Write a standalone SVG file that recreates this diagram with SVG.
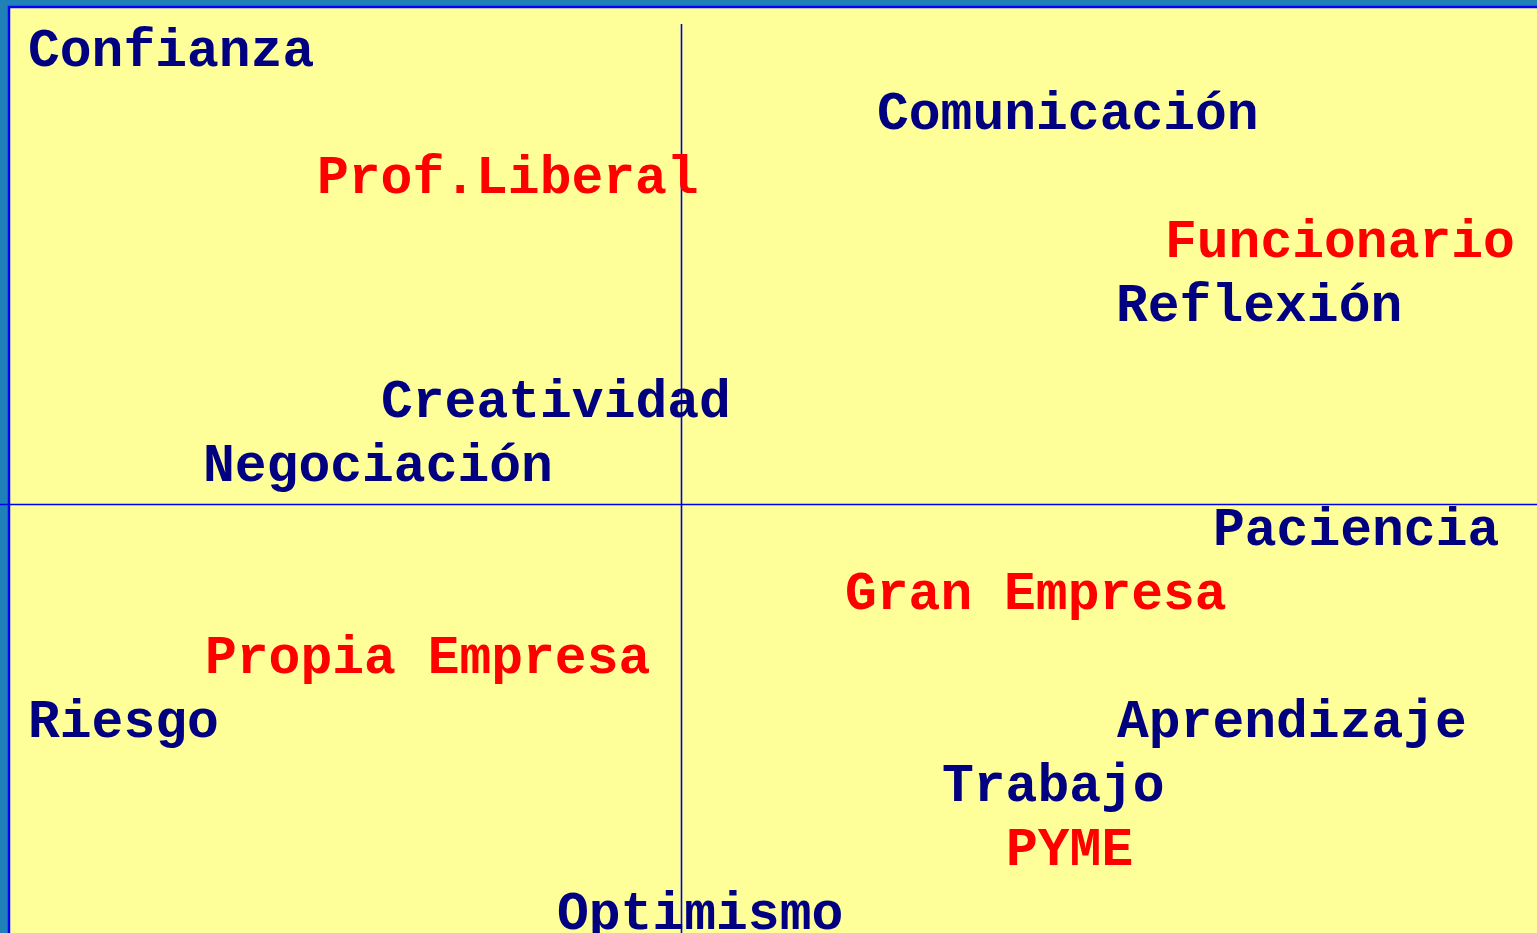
<svg xmlns="http://www.w3.org/2000/svg" width="1537" height="933" viewBox="0 0 1537 933">
<style>
text{font-family:"Liberation Mono","Courier New",monospace;font-weight:bold;font-size:53px}
.n{fill:#000080}
.r{fill:#FF0000}
</style>
<rect x="0" y="0" width="1537" height="933" fill="#2080B8"/>
<rect x="9" y="7" width="1545" height="945" fill="#FFFF99" stroke="#0000FF" stroke-width="2.5"/>
<g id="axes" stroke="#0000EE" stroke-width="1.6">
<line x1="0" y1="504.5" x2="1537" y2="504.5"/>
<line x1="681.5" y1="24" x2="681.5" y2="933"/>
</g>
<g id="confianza"><text class="n" x="28" y="66">Confianza</text></g>
<g id="comunicacion"><text class="n" x="877" y="129">Comunicación</text></g>
<g id="profliberal"><text class="r" x="317" y="193">Prof.Liberal</text></g>
<g id="funcionario"><text class="r" x="1165" y="257">Funcionario</text></g>
<g id="reflexion"><text class="n" x="1116" y="321">Reflexión</text></g>
<g id="creatividad"><text class="n" x="381" y="417">Creatividad</text></g>
<g id="negociacion"><text class="n" x="203" y="481">Negociación</text></g>
<g id="paciencia"><text class="n" x="1213" y="545">Paciencia</text></g>
<g id="granempresa"><text class="r" x="845" y="609">Gran Empresa</text></g>
<g id="propiaempresa"><text class="r" x="205" y="673">Propia Empresa</text></g>
<g id="riesgo"><text class="n" x="28" y="737">Riesgo</text></g>
<g id="aprendizaje"><text class="n" x="1117" y="737">Aprendizaje</text></g>
<g id="trabajo"><text class="n" x="942" y="801">Trabajo</text></g>
<g id="pyme"><text class="r" x="1006" y="865">PYME</text></g>
<g id="optimismo"><text class="n" x="557" y="929">Optimismo</text></g>
</svg>
